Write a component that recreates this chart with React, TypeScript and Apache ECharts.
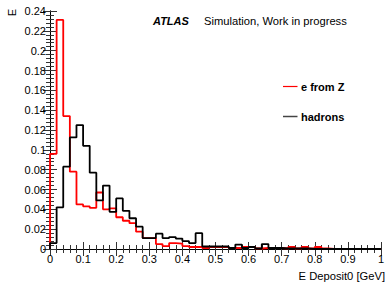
import React, { useEffect, useRef } from "react";
import * as echarts from "echarts";

const BIN_WIDTH = 0.02;
const X_MIN = 0;
const X_MAX = 1;
const Y_MAX = 0.24;

const eFromZ = [
  0.096, 0.231, 0.134, 0.078, 0.045, 0.043, 0.0415, 0.057, 0.040, 0.041,
  0.032, 0.0285, 0.026, 0.0175, 0.011, 0.011, 0.005, 0.003, 0.006, 0.0055,
  0.003, 0.002, 0.002, 0.001, 0.002, 0.002, 0.002, 0.001, 0.001, 0.002,
  0.002, 0.0005, 0.001, 0.001, 0.001, 0.0005, 0.002, 0.0005, 0.002, 0.0005,
  0.002, 0.0005, 0, 0, 0, 0, 0, 0, 0, 0,
];

const hadrons = [
  0.006, 0.042, 0.083, 0.1125, 0.125, 0.104, 0.077, 0.049, 0.064, 0.0375,
  0.051, 0.0385, 0.031, 0.0225, 0.011, 0.011, 0.0155, 0.011, 0.012, 0.0105,
  0.008, 0.006, 0.016, 0.0025, 0.0025, 0.0025, 0.0025, 0.001, 0.0045, 0.001,
  0.002, 0.0005, 0.005, 0.001, 0.001, 0.0005, 0.0005, 0.0005, 0.0005, 0,
  0, 0, 0, 0, 0, 0, 0, 0, 0, 0,
];

const xTickLabels = ["0", "0.1", "0.2", "0.3", "0.4", "0.5", "0.6", "0.7", "0.8", "0.9", "1"];
const yTickLabels = ["0", "0.02", "0.04", "0.06", "0.08", "0.1", "0.12", "0.14", "0.16", "0.18", "0.2", "0.22", "0.24"];

const legendNames = ["e from Z", "hadrons"];
const seriesColors = ["#ff0000", "#000000"];

const FONT = "'Liberation Sans', Arial, Helvetica, sans-serif";

function toSteps(values: number[]): number[][] {
  const pts: number[][] = [[X_MIN, 0]];
  values.forEach((v, i) => pts.push([X_MIN + i * BIN_WIDTH, v]));
  pts.push([X_MAX, values[values.length - 1]]);
  pts.push([X_MAX, 0]);
  return pts;
}

export default function App() {
  const ref = useRef<HTMLDivElement>(null);

  useEffect(() => {
    document.body.style.margin = "0";
    if (!ref.current) return;
    const chart = echarts.init(ref.current, undefined, { renderer: "svg" });

    const tickColor = "#333";
    const baseX = {
      type: "value" as const,
      min: X_MIN,
      max: X_MAX,
      interval: 0.1,
      splitLine: { show: false },
      axisLine: { show: true, lineStyle: { color: "#000", width: 1 } },
      axisTick: { show: true, inside: true, length: 7, lineStyle: { color: tickColor } },
      minorTick: { show: true, splitNumber: 5, length: 4, lineStyle: { color: tickColor } },
    };
    const baseY = {
      type: "value" as const,
      min: 0,
      max: Y_MAX,
      interval: 0.02,
      splitLine: { show: false },
      axisLine: { show: true, lineStyle: { color: "#000", width: 1 } },
      axisTick: { show: true, inside: true, length: 7, lineStyle: { color: tickColor } },
      minorTick: { show: true, splitNumber: 5, length: 4, lineStyle: { color: tickColor } },
    };

    const option: any = {
      animation: false,
      backgroundColor: "#ffffff",
      textStyle: { fontFamily: FONT },
      grid: { left: 50, right: 2, top: 11, bottom: 35, containLabel: false },
      xAxis: [
        {
          ...baseX,
          position: "bottom",
          axisLabel: {
            show: true,
            color: "#000",
            fontSize: 11,
            fontFamily: FONT,
            margin: 4,
            formatter: (v: number) => xTickLabels[Math.round(v / 0.1)] ?? "",
          },
        },
        { ...baseX, position: "top", axisLabel: { show: false } },
      ],
      yAxis: [
        {
          ...baseY,
          position: "left",
          axisLabel: {
            show: true,
            color: "#000",
            fontSize: 11,
            fontFamily: FONT,
            margin: 4,
            formatter: (v: number) => yTickLabels[Math.round(v / 0.02)] ?? "",
          },
        },
        { ...baseY, position: "right", axisLabel: { show: false } },
      ],
      series: [
        {
          name: legendNames[0],
          type: "line",
          step: "end",
          data: toSteps(eFromZ),
          showSymbol: false,
          symbol: "none",
          lineStyle: { color: seriesColors[0], width: 1.8 },
          itemStyle: { color: seriesColors[0] },
          xAxisIndex: 0,
          yAxisIndex: 0,
          z: 3,
        },
        {
          name: legendNames[1],
          type: "line",
          step: "end",
          data: toSteps(hadrons),
          showSymbol: false,
          symbol: "none",
          lineStyle: { color: seriesColors[1], width: 1.8 },
          itemStyle: { color: seriesColors[1] },
          xAxisIndex: 0,
          yAxisIndex: 0,
          z: 4,
        },
      ],
      graphic: [
        {
          type: "text",
          x: 17,
          y: 9,
          rotation: Math.PI / 2,
          style: {
            text: "E",
            font: `11px ${FONT}`,
            fill: "#000",
            align: "right",
            verticalAlign: "bottom",
          },
        },
        {
          type: "text",
          x: 385,
          y: 276,
          style: {
            text: "E Deposit0 [GeV]",
            font: `11.2px ${FONT}`,
            fill: "#000",
            align: "right",
            verticalAlign: "middle",
          },
        },
        {
          type: "text",
          x: 153,
          y: 21,
          style: {
            text: "ATLAS",
            font: `italic bold 11px ${FONT}`,
            fill: "#000",
            align: "left",
            verticalAlign: "middle",
          },
        },
        {
          type: "text",
          x: 204,
          y: 21,
          style: {
            text: "Simulation, Work in progress",
            font: `11.2px ${FONT}`,
            fill: "#000",
            align: "left",
            verticalAlign: "middle",
          },
        },
        {
          type: "line",
          shape: { x1: 283, y1: 86.5, x2: 297.5, y2: 86.5 },
          style: { stroke: seriesColors[0], lineWidth: 1.2 },
        },
        {
          type: "text",
          x: 301,
          y: 87,
          style: {
            text: legendNames[0],
            font: `bold 11px ${FONT}`,
            fill: "#000",
            align: "left",
            verticalAlign: "middle",
          },
        },
        {
          type: "line",
          shape: { x1: 283, y1: 116.5, x2: 297.5, y2: 116.5 },
          style: { stroke: "#444", lineWidth: 1.5 },
        },
        {
          type: "text",
          x: 301,
          y: 117,
          style: {
            text: legendNames[1],
            font: `bold 11px ${FONT}`,
            fill: "#000",
            align: "left",
            verticalAlign: "middle",
          },
        },
      ],
    };

    chart.setOption(option);
    return () => {
      chart.dispose();
    };
  }, []);

  return (
    <div
      ref={ref}
      style={{ position: "absolute", left: 0, top: 0, width: 387, height: 284, background: "#fff" }}
    />
  );
}
